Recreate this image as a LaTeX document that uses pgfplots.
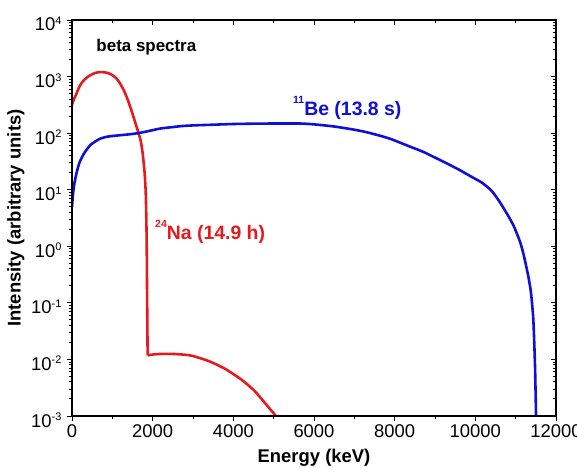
\documentclass[border=0pt]{standalone}
\usepackage{pgfplots}
\pgfplotsset{compat=1.18}
\usepackage{fontspec}
\setmainfont{Liberation Sans}
\definecolor{nared}{RGB}{230,25,30}
\definecolor{beblue}{RGB}{15,15,215}
\newcommand{\tl}[1]{10\raisebox{6.6bp}{\fontsize{11}{11}\selectfont #1}}
\newcommand{\isosup}[1]{\raisebox{12bp}{\fontsize{10.5}{10.5}\selectfont #1}}
\begin{document}
\begin{tikzpicture}
\begin{semilogyaxis}[
  name=ax,
  scale only axis, width=484bp, height=396bp,
  xmin=0, xmax=12000, ymin=1e-3, ymax=1e4,
  scaled x ticks=false,
  axis line style={line width=1.2pt},
  major tick length=5bp, minor tick length=3bp,
  every tick/.append style={black, line width=1pt},
  xtick={0,2000,4000,6000,8000,10000,12000},
  minor xtick={1000,3000,5000,7000,9000,11000},
  ytick={1e-3,1e-2,1e-1,1,10,100,1000,10000},
  minor ytick={2e-3,3e-3,4e-3,5e-3,6e-3,7e-3,8e-3,9e-3,2e-2,3e-2,4e-2,5e-2,6e-2,7e-2,8e-2,9e-2,0.2,0.3,0.4,0.5,0.6,0.7,0.8,0.9,2,3,4,5,6,7,8,9,20,30,40,50,60,70,80,90,200,300,400,500,600,700,800,900,2000,3000,4000,5000,6000,7000,8000,9000},
  tick pos=left, tick align=outside,
  xticklabels={0,2000,4000,6000,8000,10000,12000},
  yticklabels={\tl{-3},\tl{-2},\tl{-1},\tl{0},\tl{1},\tl{2},\tl{3},\tl{4}},
  tick label style={font=\fontsize{18.5}{20}\selectfont},
  yticklabel style={yshift=-4bp, xshift=-2bp},
  xlabel={Energy (keV)}, ylabel={Intensity (arbitrary units)},
  label style={font=\fontsize{18.5}{20}\selectfont\bfseries},
  xlabel style={yshift=-5bp},
  ylabel style={yshift=0bp},
]
\addplot[nared, line width=2.6pt, line join=round, smooth, tension=0.4] coordinates {
(0,320) (50,400) (100,480) (200,700) (300,870) (400,1000) (500,1100)
(600,1170) (700,1200) (800,1190) (900,1150) (1000,1060) (1100,930)
(1200,740) (1300,540) (1400,360) (1500,220) (1600,130) (1700,75)
(1750,45) (1800,20) (1830,8) (1850,1.5) (1860,0.2) (1870,0.03) (1875,0.0118)
};
\addplot[nared, line width=2.6pt, line join=round, smooth, tension=0.4] coordinates {
(1875,0.0118)
(2000,0.0122) (2200,0.0125) (2500,0.0125) (2800,0.0121) (3000,0.0115)
(3400,0.0093) (3800,0.0068) (4200,0.0044) (4500,0.0029) (4700,0.0020)
(4900,0.00135) (5000,0.00112) (5050,0.001)
};
\addplot[beblue, line width=2.6pt, line join=round, smooth, tension=0.4] coordinates {
(0,5) (30,9) (60,13) (100,18) (150,25) (200,32) (300,44) (450,61)
(600,73) (700,80) (850,86) (1000,89) (1200,92) (1400,95) (1600,99)
(1800,105) (2000,113) (2200,121) (2500,128) (2700,133) (3000,137)
(3500,141) (4000,145) (4500,147) (5000,148) (5650,148) (6000,143)
(6500,131) (7000,115) (7300,104) (7637,90) (7900,79) (8133,68) (8400,57)
(8700,47) (9000,37) (9300,29) (9600,22.5) (9900,17) (10150,13.5) (10365,10.2)
(10500,7.8) (10650,5.4) (10800,3.6) (10950,2.3) (11108,1.2) (11200,0.7)
(11315,0.29) (11380,0.15) (11438,0.05) (11480,0.0075) (11505,0.001)
};
\node[anchor=base west, font=\fontsize{17}{17}\selectfont\bfseries] at (axis cs:520,2830) {beta spectra};
\node[anchor=base west, inner sep=0pt, text=beblue, font=\fontsize{19.5}{20}\selectfont\bfseries] at (axis cs:5480,208) {\isosup{11}Be (13.8 s)};
\node[anchor=base west, inner sep=0pt, text=nared, font=\fontsize{19.5}{20}\selectfont\bfseries] at (axis cs:2058,1.31) {\isosup{24}Na (14.9 h)};
\end{semilogyaxis}
\begin{semilogyaxis}[
  scale only axis, width=484bp, height=396bp,
  xmin=0, xmax=12000, ymin=1e-3, ymax=1e4,
  scaled x ticks=false,
  axis line style={line width=1.2pt},
  major tick length=5bp, minor tick length=3bp,
  every tick/.append style={black, line width=1pt},
  xtick={0,2000,4000,6000,8000,10000,12000},
  minor xtick={1000,3000,5000,7000,9000,11000},
  ytick={1e-3,1e-2,1e-1,1,10,100,1000,10000},
  minor ytick={2e-3,3e-3,4e-3,5e-3,6e-3,7e-3,8e-3,9e-3,2e-2,3e-2,4e-2,5e-2,6e-2,7e-2,8e-2,9e-2,0.2,0.3,0.4,0.5,0.6,0.7,0.8,0.9,2,3,4,5,6,7,8,9,20,30,40,50,60,70,80,90,200,300,400,500,600,700,800,900,2000,3000,4000,5000,6000,7000,8000,9000},
  tick pos=right, tick align=inside,
  xticklabels={}, yticklabels={},
]
\end{semilogyaxis}
\pgfresetboundingbox
\path[use as bounding box] ([shift={(-72bp,-52bp)}]ax.south west) rectangle ([shift={(21bp,20bp)}]ax.north east);
\end{tikzpicture}
\end{document}
